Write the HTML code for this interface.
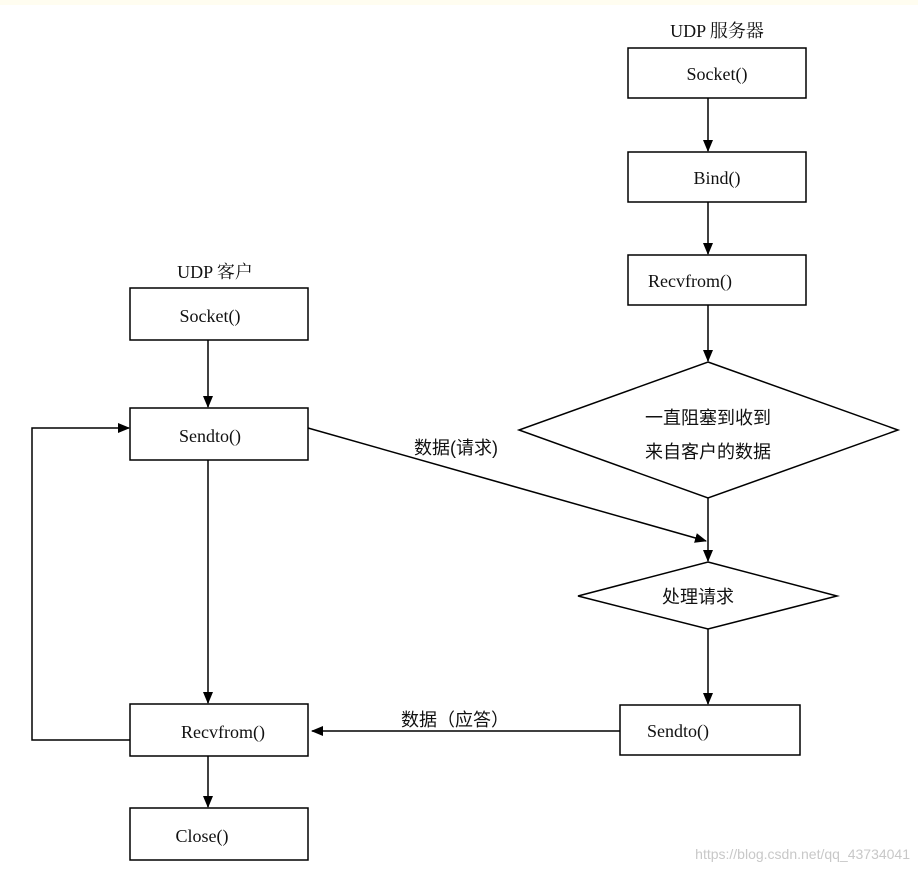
<!DOCTYPE html>
<html><head><meta charset="utf-8"><style>
html,body{margin:0;padding:0;background:#fff;}
svg{display:block}
text{font-family:"Liberation Serif","Noto Serif CJK SC",serif;font-size:18px;fill:#111}
.c{font-family:"Liberation Sans","Noto Sans CJK SC",sans-serif;}
</style></head><body>
<svg width="918" height="871" viewBox="0 0 918 871" xmlns="http://www.w3.org/2000/svg">
<defs><marker id="a" markerWidth="12" markerHeight="10" refX="11" refY="5" orient="auto" markerUnits="userSpaceOnUse"><path d="M0,0 L12,5 L0,10 z" fill="#000"/></marker></defs>
<rect x="0" y="0" width="918" height="5" fill="#fffdf0"/>
<g fill="none" stroke="#000" stroke-width="1.5">
<rect x="628" y="48" width="178" height="50"/>
<rect x="628" y="152" width="178" height="50"/>
<rect x="628" y="255" width="178" height="50"/>
<polygon points="708,362 898,430 708,498 519,430"/>
<polygon points="708,562 837,596 708,629 578,596"/>
<rect x="620" y="705" width="180" height="50"/>
<rect x="130" y="288" width="178" height="52"/>
<rect x="130" y="408" width="178" height="52"/>
<rect x="130" y="704" width="178" height="52"/>
<rect x="130" y="808" width="178" height="52"/>
<line x1="708" y1="98" x2="708" y2="151" marker-end="url(#a)"/>
<line x1="708" y1="202" x2="708" y2="254" marker-end="url(#a)"/>
<line x1="708" y1="305" x2="708" y2="361" marker-end="url(#a)"/>
<line x1="708" y1="498" x2="708" y2="561" marker-end="url(#a)"/>
<line x1="708" y1="629" x2="708" y2="704" marker-end="url(#a)"/>
<line x1="208" y1="340" x2="208" y2="407" marker-end="url(#a)"/>
<line x1="208" y1="460" x2="208" y2="703" marker-end="url(#a)"/>
<line x1="208" y1="756" x2="208" y2="807" marker-end="url(#a)"/>
<polyline points="130,740 32,740 32,428 129,428" marker-end="url(#a)"/>
<line x1="308" y1="428" x2="706" y2="541" marker-end="url(#a)"/>
<line x1="620" y1="731" x2="312" y2="731" marker-end="url(#a)"/>
</g>
<text x="717" y="37" text-anchor="middle">UDP 服务器</text>
<text x="717" y="80" text-anchor="middle">Socket()</text>
<text x="717" y="184" text-anchor="middle">Bind()</text>
<text x="690" y="287" text-anchor="middle">Recvfrom()</text>
<text class="c" x="708" y="424" text-anchor="middle">一直阻塞到收到</text>
<text class="c" x="708" y="458" text-anchor="middle">来自客户的数据</text>
<text class="c" x="698" y="603" text-anchor="middle">处理请求</text>
<text x="678" y="737" text-anchor="middle">Sendto()</text>
<text x="215" y="278" text-anchor="middle">UDP 客户</text>
<text x="210" y="322" text-anchor="middle">Socket()</text>
<text x="210" y="442" text-anchor="middle">Sendto()</text>
<text x="223" y="738" text-anchor="middle">Recvfrom()</text>
<text x="202" y="842" text-anchor="middle">Close()</text>
<text class="c" x="456" y="454" text-anchor="middle">数据(请求)</text>
<text class="c" x="455" y="726" text-anchor="middle">数据（应答）</text>
<text x="910" y="859" text-anchor="end" style="font-family:'Liberation Sans',sans-serif;font-size:14px;fill:#c8c8c8">https://blog.csdn.net/qq_43734041</text>
</svg>
</body></html>
